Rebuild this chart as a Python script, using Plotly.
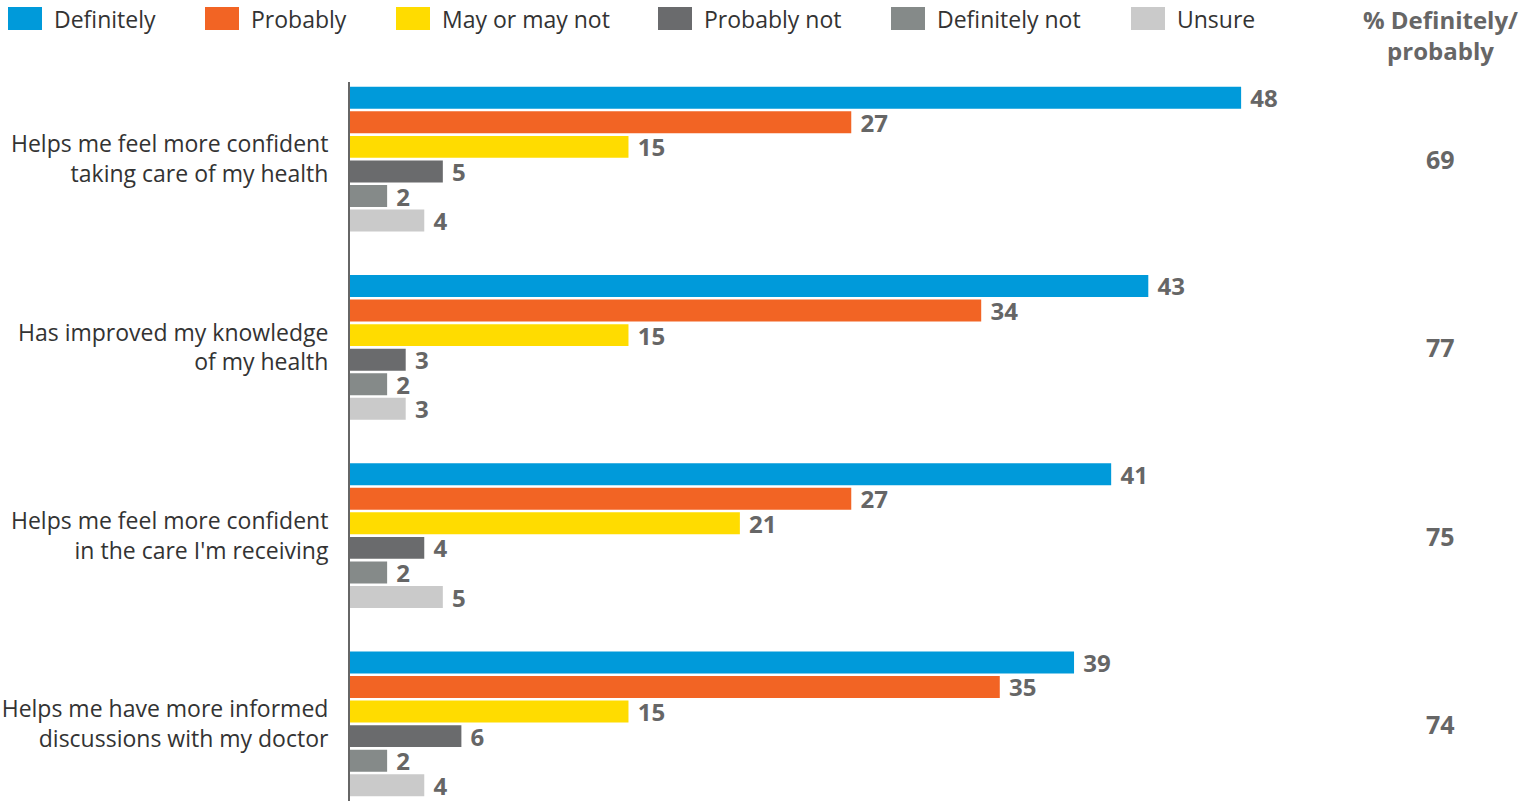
import plotly.graph_objects as go

categories = [
    "Helps me feel more confident<br>taking care of my health",
    "Has improved my knowledge<br>of my health",
    "Helps me feel more confident<br>in the care I'm receiving",
    "Helps me have more informed<br>discussions with my doctor",
]
series_names = ["Definitely", "Probably", "May or may not", "Probably not", "Definitely not", "Unsure"]
definitely = [48, 43, 41, 39]
probably = [27, 34, 27, 35]
may_or_may_not = [15, 15, 21, 15]
probably_not = [5, 3, 4, 6]
definitely_not = [2, 2, 2, 2]
unsure = [4, 3, 5, 4]
pct_def_prob = [69, 77, 75, 74]
right_header = "% Definitely/<br>probably"

colors = ["#009ADA", "#F26424", "#FFDC00", "#6A6B6D", "#858A89", "#CACACA"]
series_values = [definitely, probably, may_or_may_not, probably_not, definitely_not, unsure]

W, H = 1522, 803
ML, MR, MT, MB = 350, 82, 82, 2
PW, PH = W - ML - MR, H - MT - MB

def px(x):
    return (x - ML) / PW

def py(y):
    return (H - MB - y) / PH

FONT = "Open Sans"
NUMFONT = dict(family=FONT, size=24, color="#666666", weight="bold")
fig = go.Figure()
for name, vals, col in zip(series_names, series_values, colors):
    fig.add_trace(go.Bar(
        y=categories, x=vals, name=name, orientation="h",
        marker=dict(color=col, line=dict(width=0)),
        text=vals, texttemplate="\u00a0%{x}", textposition="outside",
        textfont=NUMFONT, constraintext="none",
        cliponaxis=False, showlegend=False,
    ))

# legend (manual)
legend_x = [8, 205, 396, 658, 891, 1131]
shapes = []
annotations = []
for name, col, lx in zip(series_names, colors, legend_x):
    shapes.append(dict(type="rect", xref="paper", yref="paper",
                       x0=px(lx), x1=px(lx + 34), y0=py(30), y1=py(7),
                       fillcolor=col, line=dict(width=0)))
    annotations.append(dict(xref="paper", yref="paper", x=px(lx + 44), y=py(19),
                            text=name, showarrow=False, xanchor="left", yanchor="middle",
                            font=dict(family=FONT, size=23, color="#333333")))

annotations.append(dict(xref="paper", yref="paper", x=1.0, y=py(35),
                        text=right_header, showarrow=False, xanchor="center", yanchor="middle",
                        font=dict(family=FONT, size=24, color="#666666", weight="bold")))
for cat, v in zip(categories, pct_def_prob):
    annotations.append(dict(xref="paper", yref="y", x=1.0, y=cat, text=str(v),
                            showarrow=False, xanchor="center", yanchor="middle",
                            font=dict(family=FONT, size=25, color="#666666", weight="bold")))

fig.update_layout(
    width=W, height=H,
    margin=dict(l=ML, r=MR, t=MT, b=MB, pad=0),
    paper_bgcolor="white", plot_bgcolor="white",
    barmode="group", bargap=0.217, bargroupgap=0.108,
    shapes=shapes, annotations=annotations,
    showlegend=False,
)
fig.update_xaxes(range=[0, PW / 18.565], visible=False, showgrid=False, zeroline=False)
fig.update_yaxes(type="category", range=[3.41, -0.41], showline=True, linecolor="#666666",
                 linewidth=2, showgrid=False, zeroline=False, ticks="",
                 ticklabelstandoff=15,
                 tickfont=dict(family=FONT, size=23, color="#333333"))

fig.write_html("out.html")
